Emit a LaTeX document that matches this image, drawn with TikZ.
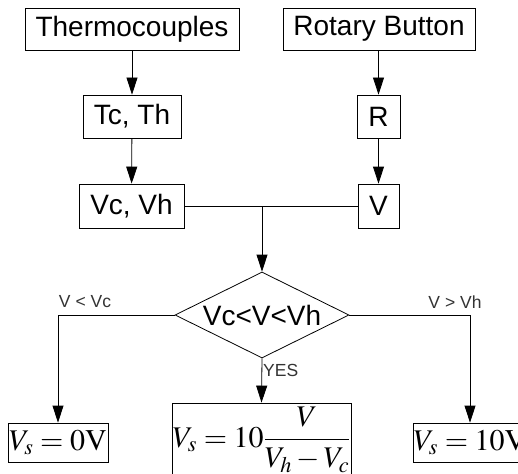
\documentclass[tikz,border=0pt]{standalone}
\usepackage{mathptmx}
\usepackage{fontspec}
\setmainfont{Liberation Sans}
\usetikzlibrary{arrows.meta,shapes.geometric}
\begin{document}
\begin{tikzpicture}[x=1pt,y=-1pt,
  box/.style={draw, line width=0.8pt, inner sep=0pt, font=\fontsize{28}{32}\selectfont},
  mbox/.style={draw, line width=0.8pt, inner sep=0pt, font=\fontsize{30}{36}\selectfont},
  arr/.style={line width=0.8pt, -{Triangle[width=11pt,length=17pt]}},
  ln/.style={line width=0.8pt},
  lbl/.style={font=\fontsize{17.5}{20}\selectfont, inner sep=0pt, text=black!80}]
\useasboundingbox (0,0) rectangle (518,473);
\node[box, minimum width=214pt, minimum height=42pt] (th) at (132,29) {Thermocouples};
\node[box, minimum width=192pt, minimum height=42pt] (rb) at (379,29) {Rotary Button};
\node[box, minimum width=98pt, minimum height=43pt] (tc) at (132,116.5) {Tc, Th};
\node[box, minimum width=43pt, minimum height=43pt] (r) at (378.5,116.5) {R};
\node[box, minimum width=105pt, minimum height=44pt] (vv) at (131.5,206) {Vc, Vh};
\node[box, minimum width=41pt, minimum height=44pt] (v) at (378.5,206) {V};
\node[box, diamond, shape aspect=2, minimum width=174pt, minimum height=86pt] (dia) at (262,315) {Vc<V<Vh};
\node[mbox, minimum width=100pt, minimum height=39pt] (z) at (58,442.5) {$V_s=0\mathrm{V}$};
\node[mbox, minimum width=179pt, minimum height=74pt] (m) at (261.5,440) {$\displaystyle V_s=10\frac{V}{V_h-V_c}$};
\node[mbox, minimum width=112pt, minimum height=39pt] (t) at (470,442.5) {$V_s=10\mathrm{V}$};
\node[lbl] (l1) at (85,302) {V < Vc};
\node[lbl] (l2) at (455,302) {V > Vh};
\node[lbl, anchor=west] (l3) at (263,370) {YES};
\draw[arr] (th) -- (tc);
\draw[arr] (r.north |- rb.south) -- (r.north);
\draw[arr] (tc) -- (vv);
\draw[arr] (r) -- (v);
\draw[ln] (vv.east) -- (v.west);
\coordinate (j) at (dia.north |- vv.east);
\draw[arr] (j) -- (dia.north);
\draw[arr] (dia.west) -| (z.north);
\draw[arr] (dia.east) -| (t.north);
\draw[arr] (dia.south) -- (m.north);
\end{tikzpicture}
\end{document}
